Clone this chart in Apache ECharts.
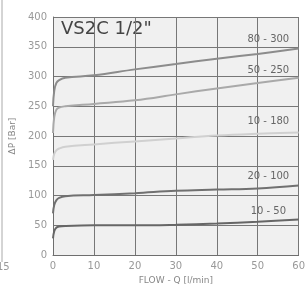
<!DOCTYPE html>
<html><head><meta charset="utf-8">
<script src="https://cdn.jsdelivr.net/npm/echarts@6/dist/echarts.min.js"></script>
<style>html,body{margin:0;padding:0;background:#fff;}#c{width:308px;height:290px;}</style>
</head><body><div id="c"></div>
<script>
const xTicks = [0, 10, 20, 30, 40, 50, 60];
const yTicks = [0, 50, 100, 150, 200, 250, 300, 350, 400];
const flowPts = [0, 0.3, 0.8, 1.5, 3, 10, 20, 30, 40, 50, 60];
const s80_300 = [250, 276, 289, 294, 298, 302, 312, 321, 330, 338, 347];
const s50_250 = [205, 232, 244, 248, 250, 254, 260, 270, 280, 289, 298];
const s10_180 = [160, 170, 176, 179, 182, 186, 191, 196, 201, 204, 206];
const s20_100 = [70, 84, 92, 96, 99, 101, 104, 108, 110, 112, 117];
const s10_50 = [28, 40, 46, 48, 49, 50, 50, 51, 53, 56, 60];
const seriesNames = ['80 - 300', '50 - 250', '10 - 180', '20 - 100', '10 - 50'];
const seriesVals = [s80_300, s50_250, s10_180, s20_100, s10_50];
const colors = ['#8c8c8c', '#a9a9a9', '#d0d0d0', '#707070', '#666666'];
const labelY = [362, 311, 224, 133, 73];

const chart = echarts.init(document.getElementById('c'), null, {renderer: 'canvas'});
const series = seriesVals.map((vals, i) => ({
  type: 'line', name: seriesNames[i],
  data: flowPts.map((x, j) => [x, vals[j]]),
  smooth: 0.4, symbol: 'none',
  lineStyle: {color: colors[i], width: 2},
  markPoint: {
    symbol: 'circle', symbolSize: 0,
    label: {show: true, formatter: seriesNames[i], color: '#666', fontSize: 10, fontFamily: 'DejaVu Sans', position: 'inside'},
    data: [{coord: [52.6, labelY[i]]}]
  }
}));
chart.setOption({
  animation: false,
  grid: {left: 53, right: 5, top: 17, bottom: 33, show: true, backgroundColor: '#f0f0f0', borderWidth: 0},
  xAxis: {
    type: 'value', min: 0, max: 60, interval: 10,
    name: 'FLOW - Q [l/min]', nameLocation: 'middle', nameGap: 20,
    nameTextStyle: {color: '#888', fontSize: 9, fontFamily: 'DejaVu Sans'},
    axisLine: {show: true, lineStyle: {color: '#6e6e6e', width: 1}},
    axisTick: {show: false},
    axisLabel: {color: '#999', fontSize: 10, margin: 6, fontFamily: 'DejaVu Sans'},
    splitLine: {show: true, lineStyle: {color: '#777', width: 1}}
  },
  yAxis: {
    type: 'value', min: 0, max: 400, interval: 50,
    name: 'ΔP [Bar]', nameLocation: 'middle', nameGap: 32, nameRotate: 90,
    nameTextStyle: {color: '#888', fontSize: 9, fontFamily: 'DejaVu Sans'},
    axisLine: {show: true, lineStyle: {color: '#6e6e6e', width: 1}},
    axisTick: {show: false},
    axisLabel: {color: '#999', fontSize: 10, margin: 6, fontFamily: 'DejaVu Sans'},
    splitLine: {show: true, lineStyle: {color: '#777', width: 1}}
  },
  graphic: [
    {type: 'text', left: 61, top: 20, style: {text: 'VS2C 1/2"', fill: '#444', font: '18px "DejaVu Sans"'}},
    {type: 'line', shape: {x1: 2, y1: 0, x2: 2, y2: 262}, style: {stroke: '#aaa', lineWidth: 1}},
    {type: 'text', left: -3, top: 262, style: {text: '15', fill: '#999', font: '10px "DejaVu Sans"'}}
  ],
  series: series
});
</script></body></html>
